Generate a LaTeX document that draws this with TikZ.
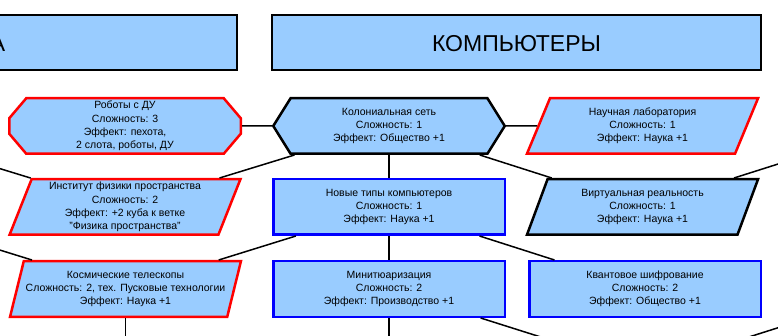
\documentclass[tikz,border=0pt]{standalone}
\usepackage{fontspec}
\setmainfont{Liberation Sans}
\usetikzlibrary{shapes.geometric,shapes.symbols,calc,backgrounds}
\definecolor{boxfill}{HTML}{99CCFF}
\definecolor{redline}{HTML}{FF0000}
\definecolor{blueline}{HTML}{0000FF}
\begin{document}
\begin{tikzpicture}[x=1pt,y=-1pt,
  techbox/.style={fill=boxfill, line width=2.5pt, minimum width=231.5pt, minimum height=55.5pt,
    align=center, font=\fontsize{10.5}{13.2}\selectfont, inner sep=2pt, text=black},
  redrim/.style={draw=redline},
  bluerim/.style={draw=blueline},
  blackrim/.style={draw=black},
  octtext/.style={rectangle, minimum width=231.5pt, minimum height=55.5pt, outer sep=0pt,
    align=center, font=\fontsize{10.5}{13.2}\selectfont, inner sep=2pt, text=black},
  octrim/.style={fill=boxfill, line width=2.5pt, line join=miter},
  hexbox/.style={techbox, signal, signal to=east and west, signal pointer angle=116},
  parbox/.style={techbox, trapezium, trapezium left angle=71, trapezium right angle=109, trapezium stretches=true},
  rectbox/.style={techbox, rectangle},
  link/.style={draw=black, line width=1.5pt},
  headbox/.style={fill=boxfill, draw=black, line width=2.3pt, minimum width=489pt, minimum height=55pt, inner sep=0pt},
  headtext/.style={font=\fontsize{23}{27}\selectfont, inner sep=0pt, text=black}]
\clip (0,0) rectangle (778,336);
% headers
\node[headbox] (head1) at (-7.5,42.5) {};
\node[headtext, anchor=base east] (head1text) at (5.5,51.7) {А};
\node[headbox] (head2) at (516.5,42.5) {};
\node[headtext, anchor=base] (head2text) at (516.5,51.7) {КОМПЬЮТЕРЫ};
% technologies
\node[octtext] (robots) at (125,126) {Роботы с ДУ\\Сложность: 3\\Эффект: пехота,\\2 слота, роботы, ДУ};
\begin{pgfonlayer}{background}
\path[octrim, redrim] ($(robots.north west)+(17,0)$) -- ($(robots.north east)+(-17,0)$)
  -- ($(robots.north east)+(0,20)$) -- ($(robots.south east)+(0,-20)$)
  -- ($(robots.south east)+(-17,0)$) -- ($(robots.south west)+(17,0)$)
  -- ($(robots.south west)+(0,-20)$) -- ($(robots.north west)+(0,20)$) -- cycle;
\end{pgfonlayer}
\node[hexbox, blackrim] (colnet) at (389,126) {Колониальная сеть\\Сложность: 1\\Эффект: Общество +1};
\node[parbox, redrim] (lab) at (642.5,126) {Научная лаборатория\\Сложность: 1\\Эффект: Наука +1};
\node[parbox, redrim] (inst) at (125,207) {Институт физики пространства\\Сложность: 2\\Эффект: +2 куба к ветке\\"Физика пространства"};
\node[rectbox, bluerim] (newcomp) at (389,207) {Новые типы компьютеров\\Сложность: 1\\Эффект: Наука +1};
\node[parbox, blackrim] (vr) at (642.5,207) {Виртуальная реальность\\Сложность: 1\\Эффект: Наука +1};
\node[parbox, redrim] (tele) at (125.5,289) {Космические телескопы\\Сложность: 2, тех. Пусковые технологии\\Эффект: Наука +1};
\node[rectbox, bluerim] (mini) at (389,289) {Минитюаризация\\Сложность: 2\\Эффект: Производство +1};
\node[rectbox, bluerim] (quant) at (645,289) {Квантовое шифрование\\Сложность: 2\\Эффект: Общество +1};
% off-page ends
\coordinate (offL1) at (-139,126);
\coordinate (offL2) at (-139,207);
\coordinate (offR1) at (898,126);
\coordinate (offR3) at (900,289);
\coordinate (down1) at (125.5,370);
\coordinate (down2) at (389,370);
\coordinate (down3) at (645,370);
% connectors
\draw[link] ([xshift=1.25pt]robots.east) -- (colnet);
\draw[link] (colnet) -- (lab);
\draw[link] (colnet) -- (inst);
\draw[link] (colnet) -- (newcomp);
\draw[link] (colnet) -- (vr);
\draw[link] (offL1) -- (inst);
\draw[link] (offR1) -- (vr);
\draw[link] (offL2) -- (tele);
\draw[link] (newcomp) -- (tele);
\draw[link] (newcomp) -- (mini);
\draw[link] (newcomp) -- (quant);
\draw[link] (tele) -- (down1);
\draw[link] (mini) -- (down2);
\draw[link] (mini) -- (down3);
\draw[link] (offR3) -- (down3);
\end{tikzpicture}
\end{document}
